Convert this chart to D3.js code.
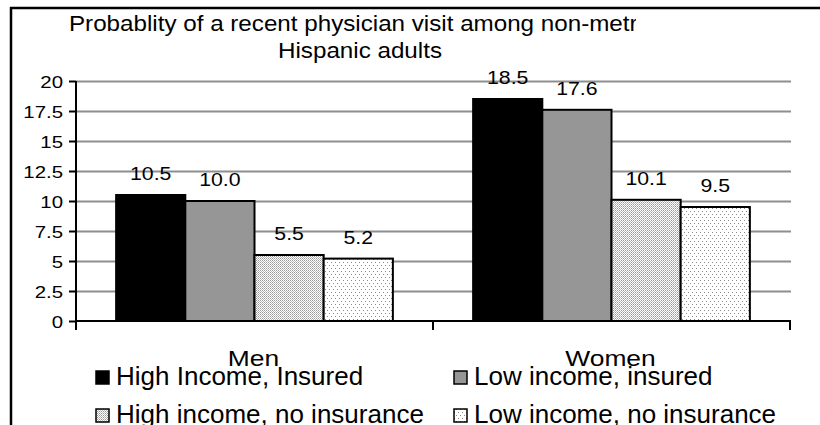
<!DOCTYPE html>
<html>
<head>
<meta charset="utf-8">
<script src="https://cdn.jsdelivr.net/npm/d3@7"></script>
<style>
  body { margin: 0; background: #fff; }
  svg { display: block; font-family: "Liberation Sans", Arial, sans-serif; }
</style>
</head>
<body>
<div class="chart-container"></div>
<script>
var groups = ["Men", "Women"];
var seriesNames = ["High Income, Insured", "Low income, insured", "High income, no insurance", "Low income, no insurance"];
var highInsured = [10.5, 18.5];
var lowInsured = [10.0, 17.6];
var highNoIns = [5.5, 10.1];
var lowNoIns = [5.2, 9.5];
var yTicks = [0, 2.5, 5, 7.5, 10, 12.5, 15, 17.5, 20];
var titleLines = ["Probablity of a recent physician visit among non-metro", "Hispanic adults"];

var seriesValues = [highInsured, lowInsured, highNoIns, lowNoIns];
var fills = ["#000", "#969696", "url(#dense)", "url(#sparse)"];

var W = 820, H = 425;
var margin = {top: 81, left: 76, right: 30, bottom: 104};
var plotRight = 790, plotBottom = 321;

var svg = d3.select(".chart-container").append("svg")
    .attr("width", W).attr("height", H);

var defs = svg.append("defs");
defs.append("clipPath").attr("id", "titleclip")
  .append("rect").attr("x", 0).attr("y", 0).attr("width", 636).attr("height", 70);

// dot patterns for the no-insurance bars
var pd = defs.append("pattern").attr("id", "dense")
    .attr("patternUnits", "userSpaceOnUse").attr("width", 2).attr("height", 2);
pd.append("rect").attr("width", 2).attr("height", 2).attr("fill", "#fff");
pd.append("rect").attr("width", 1).attr("height", 1).attr("fill", "#9a9a9a");
pd.append("rect").attr("x", 1).attr("y", 1).attr("width", 1).attr("height", 1).attr("fill", "#bdbdbd");

var ps = defs.append("pattern").attr("id", "sparse")
    .attr("patternUnits", "userSpaceOnUse").attr("width", 4).attr("height", 6);
ps.append("rect").attr("width", 4).attr("height", 6).attr("fill", "#fff");
ps.append("rect").attr("x", 1).attr("y", 1).attr("width", 1).attr("height", 1).attr("fill", "#8a8a8a");
ps.append("rect").attr("x", 3).attr("y", 4).attr("width", 1).attr("height", 1).attr("fill", "#8a8a8a");

// outer frame (cropped at right and bottom)
svg.append("path")
    .attr("d", "M11," + (H + 5) + "V8H" + (W + 5))
    .attr("fill", "none").attr("stroke", "#000").attr("stroke-width", 2.5);

var y = d3.scaleLinear().domain([0, 20]).range([plotBottom, margin.top]);
var x0 = d3.scaleBand().domain(groups).range([margin.left, plotRight]);
var x1 = d3.scaleBand().domain(d3.range(seriesNames.length))
    .range([0, x0.bandwidth()]).paddingOuter(0.58).paddingInner(0);

// gridlines
svg.append("g")
    .attr("transform", "translate(" + margin.left + ",0)")
    .call(d3.axisLeft(y).tickValues(yTicks.slice(1)).tickSize(-(plotRight + 1 - margin.left)).tickFormat(""))
    .call(function(g) {
        g.select(".domain").remove();
        g.selectAll("line").attr("stroke", "#8e8e8e").attr("stroke-width", 2);
    });

// bars
var gGroups = svg.append("g").selectAll("g").data(groups).enter().append("g")
    .attr("transform", function(d) { return "translate(" + x0(d) + ",0)"; });

gGroups.selectAll("rect")
    .data(function(d, gi) { return seriesValues.map(function(s, si) { return {si: si, v: s[gi]}; }); })
    .enter().append("rect")
    .attr("x", function(d) { return x1(d.si); })
    .attr("y", function(d) { return y(d.v); })
    .attr("width", x1.bandwidth())
    .attr("height", function(d) { return plotBottom - y(d.v); })
    .attr("fill", function(d) { return fills[d.si]; })
    .attr("stroke", "#000").attr("stroke-width", 2);

gGroups.selectAll("text.val")
    .data(function(d, gi) { return seriesValues.map(function(s, si) { return {si: si, v: s[gi]}; }); })
    .enter().append("text")
    .attr("class", "val")
    .attr("transform", function(d) {
        return "translate(" + (x1(d.si) + x1.bandwidth() / 2) + "," + (y(d.v) - 15) + ") scale(1.12,1)";
    })
    .attr("text-anchor", "middle")
    .attr("font-size", 19)
    .text(function(d) { return d.v.toFixed(1); });

// y axis
svg.append("g")
    .attr("transform", "translate(" + margin.left + ",0)")
    .call(d3.axisLeft(y).tickValues(yTicks).tickSize(7).tickFormat(function(d) { return String(d); }))
    .call(function(g) {
        g.select(".domain").attr("stroke", "#000").attr("stroke-width", 2).attr("d", "M0," + margin.top + "V" + plotBottom);
        g.selectAll(".tick line").attr("stroke", "#000").attr("stroke-width", 2);
        g.selectAll(".tick text")
            .attr("font-family", null).attr("font-size", 17).attr("fill", "#000")
            .attr("x", -13 / 1.2).attr("dy", "0.36em")
            .attr("transform", "scale(1.2,1)");
    });

// x axis with ticks at category boundaries
var bounds = groups.map(function(g) { return x0(g); }).concat([x0(groups[groups.length - 1]) + x0.bandwidth()]);
var xAxisG = svg.append("g");
xAxisG.append("line")
    .attr("x1", margin.left).attr("x2", plotRight + 1)
    .attr("y1", plotBottom).attr("y2", plotBottom)
    .attr("stroke", "#000").attr("stroke-width", 2);
xAxisG.selectAll("line.tick").data(bounds).enter().append("line")
    .attr("class", "tick")
    .attr("x1", function(d) { return d; }).attr("x2", function(d) { return d; })
    .attr("y1", plotBottom).attr("y2", plotBottom + 9)
    .attr("stroke", "#000").attr("stroke-width", 2);
xAxisG.selectAll("text").data(groups).enter().append("text")
    .attr("transform", function(d) { return "translate(" + (x0(d) + x0.bandwidth() / 2 - 1) + ",366) scale(1.2,1)"; })
    .attr("text-anchor", "middle")
    .attr("font-size", 22)
    .text(function(d) { return d; });

// title
var title = svg.append("g").attr("clip-path", "url(#titleclip)");
title.selectAll("text").data(titleLines).enter().append("text")
    .attr("transform", function(d, i) { return "translate(360," + (30.5 + i * 27.5) + ") scale(1.1,1)"; })
    .attr("text-anchor", "middle")
    .attr("font-size", 22)
    .text(function(d) { return d; });

// legend
var legendPos = [[95, 385], [453, 385], [95, 423], [453, 423]];
var leg = svg.append("g").selectAll("g").data(seriesNames).enter().append("g")
    .attr("transform", function(d, i) { return "translate(" + legendPos[i][0] + "," + legendPos[i][1] + ")"; });
leg.append("rect")
    .attr("x", 1).attr("y", -14).attr("width", 13).attr("height", 13)
    .attr("fill", function(d, i) { return fills[i]; })
    .attr("stroke", "#000").attr("stroke-width", 1.5);
leg.append("text")
    .attr("x", 21).attr("y", 0)
    .attr("font-size", 26)
    .text(function(d) { return d; });
</script>
</body>
</html>
